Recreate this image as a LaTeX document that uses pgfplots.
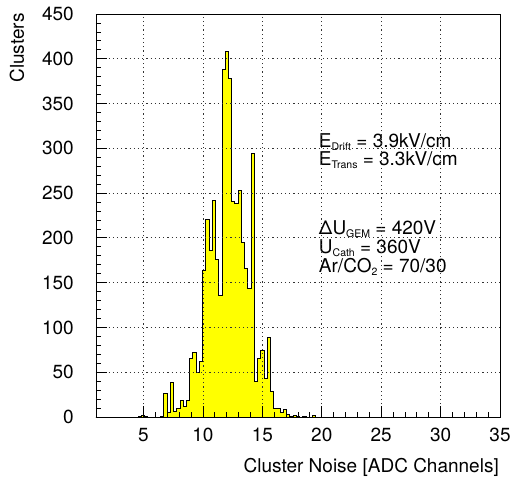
\documentclass[border=0pt]{standalone}
\usepackage{pgfplots}
\pgfplotsset{compat=1.18}
\usepackage{fontspec}
\setmainfont{TeX Gyre Heros}

\definecolor{histfill}{RGB}{255,255,0}
\newcommand\sub[1]{\raisebox{-3pt}{\fontsize{10.5}{11}\selectfont #1}}

\begin{document}
\fontsize{19}{22}\selectfont
\begin{tikzpicture}[x=1pt,y=1pt]
\useasboundingbox (-96,-63) rectangle (416,417);
\begin{axis}[
    at={(0,0)}, anchor=south west,
    width=404pt, height=403pt, scale only axis,
    xmin=1, xmax=35, ymin=0, ymax=450,
    xtick={5,10,...,35}, ytick={0,50,...,450},
    minor x tick num=4, minor y tick num=4,
    tick align=inside, xtick pos=bottom, ytick pos=left,
    major tick length=11pt, minor tick length=5.5pt,
    tick style={black, line width=0.8pt},
    grid=major,
    grid style={black!80, line width=0.8pt, dash pattern=on 1.2pt off 3pt},
    axis line style={line width=0.9pt},
    axis on top,
    /pgf/number format/assume math mode=true,
    tick label style={font=\fontsize{19}{19}\selectfont},
    yticklabel style={anchor=east, inner sep=0pt, xshift=-22pt},
    xticklabel style={anchor=north, inner sep=0pt, yshift=-11pt},
]
% left bin edge, counts (bin width 0.272)
\addplot[const plot, fill=histfill, draw=black, line width=1pt] table {
x y
1.000 0
4.536 1
4.808 2
5.080 1
5.352 0
6.440 1
6.712 26
6.984 5
7.256 39
7.528 6
7.800 9
8.072 18
8.344 12
8.616 18
8.888 65
9.160 72
9.432 50
9.704 62
9.976 164
10.248 221
10.520 186
10.792 242
11.064 176
11.336 136
11.608 388
11.880 408
12.152 378
12.424 241
12.696 238
12.968 253
13.240 195
13.512 166
13.784 144
14.056 294
14.328 40
14.600 65
14.872 74
15.144 43
15.416 89
15.688 29
15.960 10
16.232 10
16.504 5
16.776 8
17.048 3
17.320 1
17.592 2
17.864 1
18.136 0
18.408 1
18.680 0
19.224 2
19.496 0
35.000 0
} \closedcycle;

\node[anchor=base west, inner sep=0pt] at (axis cs:19.75,300.5) {E\sub{Drift} = 3.9kV/cm};
\node[anchor=base west, inner sep=0pt] at (axis cs:19.75,280.5) {E\sub{Trans} = 3.3kV/cm};
\node[anchor=base west, inner sep=0pt] at (axis cs:19.75,203.5) {ΔU\sub{GEM} = 420V};
\node[anchor=base west, inner sep=0pt] at (axis cs:19.75,183) {U\sub{Cath} = 360V};
\node[anchor=base west, inner sep=0pt] at (axis cs:19.75,161) {Ar/CO\sub{2} = 70/30};
\end{axis}
\node[rotate=90, anchor=base east, inner sep=0pt] at (-72,404) {Clusters};
\node[anchor=base east, inner sep=0pt] at (403,-55) {Cluster Noise [ADC Channels]};
\end{tikzpicture}
\end{document}
